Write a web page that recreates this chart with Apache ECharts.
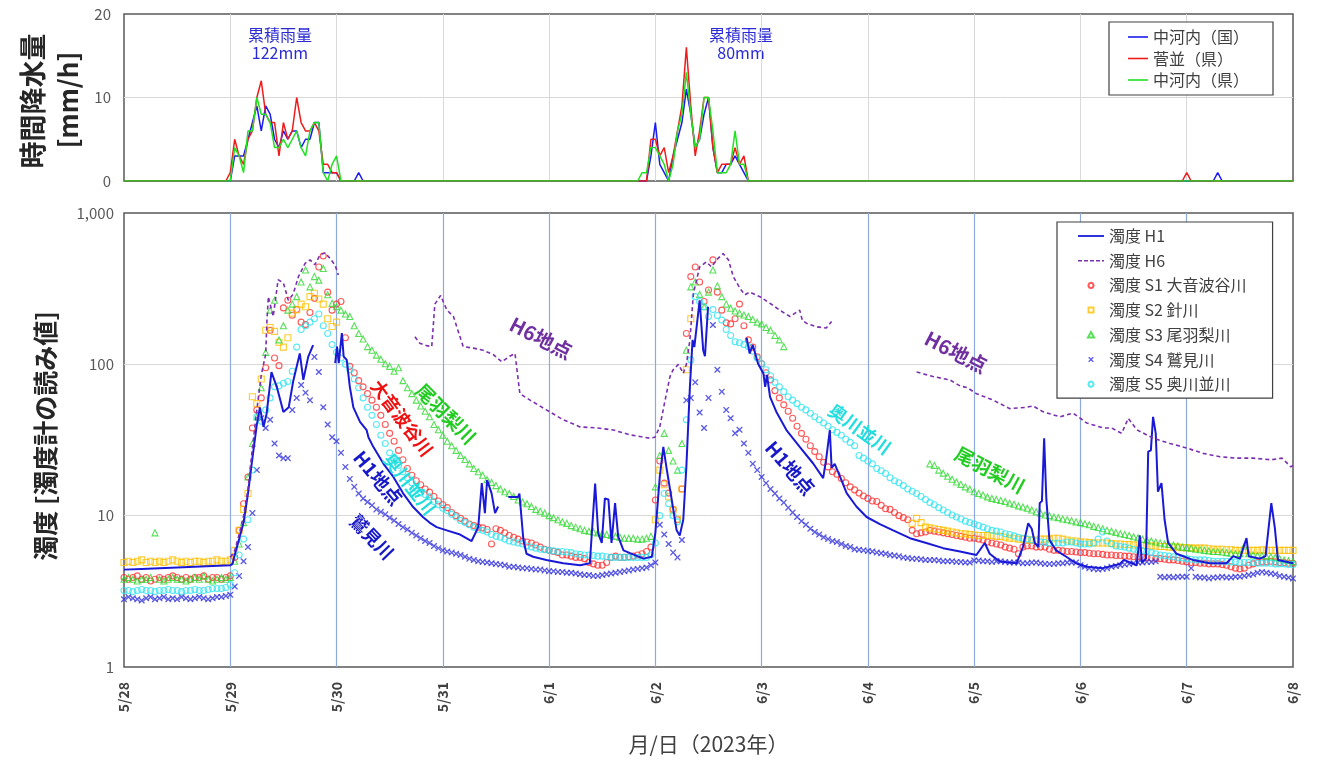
<!DOCTYPE html>
<html><head><meta charset="utf-8">
<script src="https://cdn.jsdelivr.net/npm/echarts@6/dist/echarts.min.js"></script>
<style>html,body{margin:0;padding:0;background:#fff}#c{width:1317px;height:761px}</style>
</head><body><div id="c"></div>
<script>
// x = hours after 2023-05-28 00:00
const dayLabels = ['5/28','5/29','5/30','5/31','6/1','6/2','6/3','6/4','6/5','6/6','6/7','6/8'];
const rainNames = ['中河内（国）','菅並（県）','中河内（県）'];
const turbNames = ['濁度 H1','濁度 H6','濁度 S1 大音波谷川','濁度 S2 針川','濁度 S3 尾羽梨川','濁度 S4 鷲見川','濁度 S5 奥川並川'];

// hourly rainfall [hour, mm/h]
const rainBlue = [[0,0],[24,0],[25,3],[26,3],[27,3],[28,5],[29,7],[30,9],[31,6],[32,9],[33,8],[34,5],[35,4],[36,6],[37,5],[38,6],[39,6],[40,4],[41,5],[42,5],[43,7],[44,7],[45,1],[46,1],[47,1],[48,1],[49,0],[52,0],[53,1],[54,0],[118,0],[119,3],[120,7],[121,2],[122,1],[123,0],[124,3],[125,5],[126,7],[127,11],[128,8],[129,4],[130,5],[131,8],[132,10],[133,4],[134,1],[135,1],[136,2],[137,2],[138,3],[139,2],[140,1],[141,0],[246,0],[247,1],[248,0],[264,0]];
const rainRed = [[0,0],[23,0],[24,1],[25,5],[26,3],[27,2],[28,5],[29,6],[30,10],[31,12],[32,8],[33,7],[34,7],[35,3],[36,7],[37,5],[38,6],[39,10],[40,7],[41,6],[42,6],[43,7],[44,6],[45,2],[46,2],[47,1],[48,1],[49,0],[118,0],[119,5],[120,5],[121,3],[122,4],[123,1],[124,3],[125,6],[126,9],[127,16],[128,9],[129,3],[130,6],[131,10],[132,10],[133,4],[134,1],[135,2],[136,2],[137,2],[138,4],[139,2],[140,3],[141,0],[239,0],[240,1],[241,0],[264,0]];
const rainGreen = [[0,0],[24,0],[25,4],[26,3],[27,1],[28,6],[29,6],[30,10],[31,8],[32,8],[33,7],[34,4],[35,4],[36,5],[37,4],[38,5],[39,6],[40,4],[41,3],[42,6],[43,7],[44,7],[45,1],[46,0],[47,2],[48,3],[49,0],[116,0],[117,1],[118,1],[119,4],[120,4],[121,3],[122,2],[123,0],[124,2],[125,6],[126,8],[127,13],[128,8],[129,4],[130,5],[131,10],[132,10],[133,6],[134,1],[135,1],[136,1],[137,2],[138,6],[139,2],[140,2],[141,0],[264,0]];

// H1 / H6 turbidity [hour, value], null = no data
const h1 = [[0,4.4],[4,4.45],[8,4.5],[12,4.55],[16,4.6],[20,4.65],[24,4.7],[24.5,4.8],[25,5.5],[26,7],[27,9],[28,14],[29,24],[30,40],[30.7,52],[31.5,38.6],[32.2,47],[33.3,89],[34.5,71],[36,48.5],[37.2,52],[38.2,77],[39.7,118],[40.5,79],[41.6,112],[42.7,134],[43,null],[47.7,102],[48.1,131],[48.5,102],[49.2,161],[49.6,113],[50.3,107],[51,71],[51.8,52],[53.3,41.7],[54.8,36.7],[55.2,33],[56.3,28.5],[58.6,22],[60.8,18.1],[63,14.1],[65.3,11.4],[67.5,9.8],[69,9],[70.6,8.4],[72.9,8],[75.9,7.5],[78.5,6.8],[80,8.4],[80.8,16.4],[81.5,10.4],[82,17.2],[83,14.1],[83.8,10.4],[84.5,11.5],[85,null],[86.8,13.3],[89,13.3],[89.3,14],[90.2,6.9],[90.9,5.6],[92.4,5.35],[95.4,5.1],[99.2,4.85],[103,4.7],[105.2,4.85],[106.4,16.3],[107.1,7.6],[107.9,6.6],[108.6,13],[109.4,12.8],[110.1,6.6],[110.9,12.1],[111.6,7.3],[112.8,5.9],[114.3,5.65],[117.3,5.2],[119.2,5.35],[120,7.7],[121,18.1],[121.8,28.5],[122.6,20],[123.7,12.7],[124.8,8],[125.5,7.4],[126.3,9.4],[127,21],[127.8,71],[128.4,145],[128.8,130],[130,265],[130.8,124],[131.2,113],[131.9,240],[132.3,null],[140.6,150],[141.3,118],[142,134],[143.2,101],[144.4,87],[144.8,71],[145.2,85],[145.9,61],[147.4,48],[149.6,36.8],[152.6,28.5],[155.6,22.2],[157.9,17.7],[158.6,24],[159.4,36.8],[159.8,20.7],[160.5,22],[161.7,18.1],[163.2,14.1],[165.4,11.5],[167.7,9.8],[170.7,8.8],[173.7,8],[177.5,7.1],[181.2,6.6],[185,6.1],[188.8,5.8],[192.5,5.5],[194.4,6.6],[195.5,5.6],[197.8,4.97],[201.6,4.85],[203,6.2],[204.2,8.9],[205,8.2],[205.7,6.6],[206.5,6.2],[206.8,12.1],[207.3,12.5],[207.8,32.5],[208.3,12.8],[209,6.9],[210.5,5.9],[212.8,5.35],[215,4.85],[217.4,4.6],[221.1,4.5],[224.9,4.8],[225.8,5.1],[228.7,4.7],[229.4,7.4],[229.9,4.9],[230.8,5.2],[231.3,26.5],[231.9,27],[232.4,45],[233,35],[233.5,14.4],[234.3,16.4],[235,9.4],[235.8,6.6],[237.7,5.6],[241.4,5.1],[245.2,4.85],[249,4.85],[250.5,5.4],[252,5.2],[253.5,7.1],[254,5.4],[256.5,5.2],[257.8,5.4],[259.1,12.1],[259.9,8.3],[260.6,5.1],[264,4.85]];
const h6 = [[24,5.3],[25,5.9],[26,7.5],[27,10],[28,15],[29,28],[30,50],[31,85],[32,117],[32.3,200],[32.6,280],[33.7,207],[34.8,362],[36,345],[37.1,265],[38.2,291],[39.4,380],[40.9,465],[42,490],[43.1,455],[44.3,530],[45.4,545],[46.5,503],[47.7,450],[48.4,389],[48.6,null],[65.7,152],[66.8,138],[68.3,133],[69.5,131],[70.2,250],[71.5,285],[72.9,229],[74.4,207],[76.6,131],[78.9,128],[81.1,124],[83.4,116],[85.3,104],[87.1,113],[88.3,118],[89.4,64],[91.7,58],[95.4,50],[99.2,43],[103,38.6],[106.7,38],[110.5,36.8],[114.3,34.2],[118.8,32.5],[119.9,33],[121,38.6],[122.2,58],[123.3,83],[124,92],[125.2,100],[126.3,87],[127,100],[127.8,145],[128.6,295],[130,440],[131.5,475],[132.7,440],[133.8,490],[135.3,540],[136.5,490],[137.6,380],[139.1,318],[140.2,288],[141.3,300],[143.6,280],[145.9,253],[148.1,228],[150.4,207],[152.6,228],[153.2,195],[154.1,187],[156.4,177],[158.6,174],[159.8,192],[160,null],[179,89],[182.7,83],[186.5,79],[188.8,72],[190.5,70],[192.5,64],[196.3,58],[200,51],[203.8,52],[205.3,53],[207.6,48.5],[211.4,45],[213.6,47],[214.4,47.5],[217.4,41],[221.1,38],[223,38],[225.3,35],[226.8,44],[228.7,37],[232.4,32.5],[236.2,30],[240,28],[243.7,25.8],[247.5,24.5],[251.3,24],[255,24],[259,23.4],[261.5,24],[262.5,22.5],[263.5,21],[264,21.5]];

// hourly sensor values; each array starts at its *Start hour
const s1Start = 0;
const s1 = [3.9,3.8,3.9,4.0,3.8,3.9,3.7,3.8,3.9,3.8,3.9,4.0,3.9,3.8,3.9,3.8,3.9,3.9,4.0,3.8,3.9,3.9,3.8,3.9,
4.0,5.3,8,12,18,38,50,60,95,168,110,98,236,265,211,230,190,183,220,273,440,520,300,228,
250,260,150,97,88,78,71,64,58,52,46,40,35,31,27,23.4,20.5,18.5,17,16,15,14.3,13.4,12.5,
11.8,11.3,10.5,10,9.6,9.2,8.8,8.6,8.4,8.3,8.1,6.5,8.2,8.0,7.7,7.4,7.2,7.0,6.8,6.7,6.6,6.4,6.2,6.0,
5.9,5.8,5.7,5.5,5.5,5.4,5.3,5.3,5.2,4.9,4.8,4.7,4.7,4.9,5.3,5.4,5.3,5.3,5.35,5.4,5.5,5.6,5.8,6.2,
12.7,23,16.4,14.1,11,9.4,15,160,380,440,350,260,310,490,300,228,188,185,200,250,180,145,130,112,
101,88,79,67,60,54,49,44,39,35,32,29,26.5,24.5,22.5,21,19.5,18.8,17.6,16.5,15.5,14.8,14.1,13.5,
13,12.5,12.4,11.7,11.1,11,10.5,10,9.7,9.4,8.0,7.6,7.7,7.8,8,7.9,7.8,7.7,7.6,7.5,7.4,7.3,7.2,7.1,
7.1,7.0,6.9,6.7,6.6,6.5,6.4,6.2,6.1,6.0,5.6,6.2,6.3,6.3,6.2,6.2,6.2,6.0,5.9,5.9,5.85,5.8,5.8,5.75,
5.7,5.7,5.65,5.6,5.6,5.55,5.5,5.5,5.45,5.45,5.4,5.4,5.35,5.35,5.3,5.3,5.25,5.2,5.2,5.15,5.1,5.1,5.05,5.0,
4.95,4.9,4.9,4.85,4.85,4.8,4.8,4.8,4.75,4.7,4.6,4.5,4.45,4.5,4.7,4.8,4.9,4.95,4.95,5.0,4.95,4.9,4.9,4.85,4.85];
const s2aStart = 0;
const s2a = [4.9,5.0,4.9,5.0,5.1,4.9,5.0,4.9,5.0,4.9,5.0,5.1,5.0,4.9,5.0,4.9,5.0,5.0,4.9,5.0,5.0,5.1,5.0,5.0,
5.1,5.9,8,11,14,61,55,80,168,175,165,140,130,150,218,230,250,240,280,295,270,250,200,178,190];
const s2bStart = 120;
const s2b = [9.4,20,16,13.3,10.9,9.5,15,92,200];
const s2cStart = 178;
const s2c = [8.9,9.6,9.0,8.4,8.3,8.2,8.1,8.0,7.9,7.8,7.7,7.6,7.6,7.5,
7.45,7.4,7.4,7.4,7.4,7.3,7.3,7.2,7.1,7.1,7.0,7.0,6.9,6.9,6.9,7.0,7.0,7.0,7.1,7.1,7.0,6.9,6.8,6.8,
6.7,6.7,6.65,6.6,6.6,6.6,6.6,6.55,6.5,6.5,6.45,6.45,6.4,6.4,6.35,6.35,6.3,6.3,6.25,6.25,6.2,6.2,6.2,6.15,
6.15,6.1,6.1,6.1,6.1,6.05,6.0,6.0,6.0,5.95,5.95,5.9,5.9,5.9,5.9,5.9,5.9,5.95,5.9,5.9,5.9,5.9,5.9,5.9,5.9];
const s3aStart = 0;
const s3a = [3.8,3.9,3.8,3.7,3.8,3.8,3.9,7.7,3.8,3.7,3.8,3.9,3.8,3.8,3.7,3.8,3.9,3.8,4.0,3.8,3.7,3.8,3.9,3.8,
3.9,5.0,6.5,9,18,30,45,70,120,228,265,145,180,228,250,280,350,420,325,380,360,430,288,253,
240,228,215,207,180,160,147,131,124,115,108,101,97,90,95,78,70,64,58,53,49,45,40,37,
34,31,29,27,25,23.5,22,20.5,19.5,18.5,17.3,16.6,15.8,15,14.4,14,13.4,12.7,12.3,12.0,11.5,11,10.7,10.4,
10,9.7,9.4,9.1,8.9,8.6,8.4,8.2,8.0,7.9,7.8,7.7,7.6,7.5,7.4,7.3,7.2,7.1,7.1,7.1,7.0,7.0,7.1,7.3,
15.5,25,35,27,23,20,30,124,325,350,290,240,300,420,330,280,250,235,225,218,212,207,198,190,
185,175,168,155,145,131];
const s3bStart = 182;
const s3b = [22,21.5,20,19.1,18.2,17.4,16.7,16.1,15.5,15,
14.4,14.0,13.7,13.3,13.0,12.8,12.6,12.4,12.1,11.9,11.6,11.4,11.2,10.9,10.6,10.4,10.1,10.0,9.8,9.7,9.5,9.4,9.25,9.1,
9.0,8.85,8.7,8.5,8.35,8.2,8.0,7.9,7.75,7.6,7.5,7.4,7.25,7.15,7.0,6.9,6.8,6.7,6.6,6.5,6.45,6.4,6.3,6.2,
6.15,6.1,6.0,5.95,5.9,5.85,5.8,5.8,5.75,5.7,5.65,5.6,5.6,6.3,5.6,5.5,5.45,5.45,5.4,5.35,5.3,5.2,5.1,5.05,4.97];
const s4Start = 0;
const s4 = [2.8,2.9,2.85,2.8,2.75,2.85,2.9,2.8,2.85,2.9,2.8,2.85,2.8,2.9,2.85,2.8,2.85,2.9,2.85,2.8,2.85,2.9,2.9,2.95,
3.0,3.4,4.0,5,6.2,10.4,20,44,38,43,30,25,24,24,50,60,73,65,58,112,89,52,40,33,
31,26,21,17.5,15.5,14,13,12.3,11.7,11,10.6,10.2,9.7,9.3,8.8,8.4,8.1,7.7,7.4,7.1,6.8,6.6,6.3,6.1,
5.9,5.8,5.7,5.6,5.5,5.35,5.2,5.1,5.0,4.95,4.9,4.85,4.8,4.75,4.7,4.6,4.6,4.55,4.5,4.5,4.45,4.4,4.4,4.35,
4.3,4.3,4.25,4.25,4.2,4.2,4.15,4.1,4.05,4.05,4.0,4.0,4.05,4.1,4.15,4.2,4.25,4.3,4.35,4.4,4.45,4.5,4.55,4.7,
4.9,8.7,7.5,6.5,5.7,5.3,6.9,58,60,76,48,38,60,182,92,66,50,44,35,37,30,26,22,20,
18,16.4,15,14,13,12.2,11.3,10.5,9.8,9.2,8.7,8.2,7.8,7.5,7.2,7.0,6.8,6.7,6.5,6.3,6.2,6.0,5.95,5.9,
5.85,5.8,5.7,5.65,5.6,5.5,5.45,5.4,5.3,5.25,5.2,5.2,5.15,5.1,5.1,5.1,5.05,5.0,5.0,5.0,4.95,4.95,4.9,4.9,
5.05,5.05,5.0,5.0,4.95,5.0,5.0,4.95,4.9,4.9,4.9,4.85,4.85,4.9,4.9,4.85,4.8,4.8,4.8,4.85,4.85,4.9,4.9,4.9,
4.7,4.6,4.5,4.45,4.4,4.45,4.5,4.6,4.65,4.7,4.75,4.8,4.85,4.9,4.9,4.95,4.95,5.0,3.95,3.9,3.95,3.9,3.95,3.95,
3.95,4.5,3.95,3.9,3.9,3.85,3.9,3.9,3.95,3.9,3.9,3.95,3.95,4.0,4.05,4.1,4.2,4.25,4.2,4.15,4.1,4.0,3.95,3.9,3.85];
const s5Start = 0;
const s5 = [3.2,3.2,3.15,3.2,3.25,3.2,3.2,3.15,3.2,3.2,3.25,3.2,3.2,3.15,3.2,3.2,3.25,3.2,3.2,3.25,3.3,3.3,3.3,3.35,
3.5,4.2,5.5,7,9.4,20,45,42,50,60,71,72,75,77,90,130,170,180,190,200,215,180,160,135,
120,110,100,92,80,70,60,52,46,40,34,30,26,23.5,21.5,19.5,17.8,16.5,15.2,14.3,13.8,13.3,12.4,11.8,
11.2,10.8,10.2,9.8,9.3,9.0,8.7,8.4,8.1,8.0,7.8,7.5,7.3,7.2,7.0,6.8,6.7,6.6,6.5,6.3,6.2,6.1,6.0,5.95,
5.9,5.85,5.8,5.8,5.75,5.7,5.6,5.55,5.5,5.5,5.45,5.4,5.4,5.35,5.3,5.3,5.3,5.3,5.3,5.3,5.3,5.3,5.3,5.5,
6.6,10,14,12,10,9.1,20,43,107,280,260,240,207,230,210,196,170,155,141,139,135,131,122,110,
101,92,84,76,71,66,61,58,55,52,50,47.5,45,43,41,39,37,35.5,34,32,30.5,29,25,24,
23,22,20.5,19.8,19,17.8,17,16.5,15.8,15,14.5,14,13.4,12.8,12.2,11.8,11.3,10.9,10.5,10.1,9.8,9.5,9.2,9.0,
8.8,8.6,8.4,8.2,8.0,7.9,7.8,7.6,7.5,7.35,7.2,7.1,7.0,6.9,6.8,6.7,6.65,6.6,6.6,6.6,6.6,6.7,6.7,6.6,
6.5,6.5,6.5,6.6,7.0,7.8,6.8,6.5,6.3,6.25,6.2,6.1,6.0,5.9,5.85,5.8,5.7,5.6,5.5,5.45,5.4,5.35,5.3,5.25,
5.2,5.15,5.1,5.1,5.1,5.05,5.0,5.0,5.0,5.0,4.95,4.95,4.9,4.9,4.9,4.9,4.85,4.85,4.85,4.85,4.8,4.8,4.8,4.75,4.75];

const seg = (start, arr) => arr.map((v, i) => [start + i, v]);
const gap = arr => arr.map(p => [p[0], p[1] == null ? '-' : p[1]]);

const FONT = '"Noto Sans CJK JP","Noto Sans",sans-serif';
const deg = d => d * Math.PI / 180;
const hollow = c => ({ color: 'rgba(0,0,0,0)', borderColor: c, borderWidth: 1.1 });
const crossPath = 'path://M0,0L1.6,0L5,3.4L8.4,0L10,0L10,1.6L6.6,5L10,8.4L10,10L8.4,10L5,6.6L1.6,10L0,10L0,8.4L3.4,5L0,1.6Z';
// legend icons: bounding box fixed via move-to points, glyph centred
const icRainLine = 'path://M0,0M20,10M0,4.2L20,4.2L20,5.8L0,5.8Z';
const icLine = 'path://M0,0M26,7M0,2.6L26,2.6L26,4.4L0,4.4Z';
const icDash = 'path://M0,0M26,7M0,2.8L4,2.8L4,4.2L0,4.2Z M6,2.8L10,2.8L10,4.2L6,4.2Z M12,2.8L16,2.8L16,4.2L12,4.2Z M18,2.8L22,2.8L22,4.2L18,4.2Z M24,2.8L26,2.8L26,4.2L24,4.2Z';
const icRect = 'path://M0,0M26,7M10.5,1L15.5,1L15.5,6L10.5,6Z';
const icTri = 'path://M0,0M26,7M13,0.8L16,6.2L10,6.2Z';
const icCircle = 'path://M0,0M26,7M13,0.8L14.8,1.5L15.6,3.5L14.8,5.5L13,6.2L11.2,5.5L10.4,3.5L11.2,1.5Z';
const icCross = 'path://M0,0M26,7M10.5,1L11.5,1L13,2.6L14.5,1L15.5,1L15.5,2L13.9,3.5L15.5,5L15.5,6L14.5,6L13,4.4L11.5,6L10.5,6L10.5,5L12.1,3.5L10.5,2Z';

const chart = echarts.init(document.getElementById('c'), null, { renderer: 'canvas' });
const ann = (text, x, y, color, rot, size) => ({
  type: 'text', x, y, rotation: deg(rot), z: 50,
  style: { text, fill: color, font: 'bold ' + (size || 19) + 'px ' + FONT, align: 'center', verticalAlign: 'middle' }
});
const solidIcon = (c) => ({ color: c, borderWidth: 0 });

chart.setOption({
  animation: false,
  backgroundColor: '#fff',
  textStyle: { fontFamily: FONT },
  grid: [
    { left: 124, right: 24, top: 14, height: 167, show: true, borderColor: '#595959', borderWidth: 1.5, backgroundColor: 'transparent' },
    { left: 124, right: 24, top: 213, height: 454, show: true, borderColor: '#595959', borderWidth: 1.5, backgroundColor: 'transparent' }
  ],
  xAxis: [
    { gridIndex: 0, type: 'value', min: 0, max: 264, interval: 24,
      axisLabel: { show: false }, axisTick: { show: false }, axisLine: { show: false },
      splitLine: { show: true, showMinLine: false, showMaxLine: false, lineStyle: { color: '#d9d9d9', width: 1 } } },
    { gridIndex: 1, type: 'value', min: 0, max: 264, interval: 24,
      axisLabel: { rotate: 90, margin: 15, fontSize: 14, fontWeight: 'bold', color: '#404040', fontFamily: FONT,
        formatter: v => dayLabels[Math.round(v / 24)] },
      axisTick: { show: false }, axisLine: { show: false },
      splitLine: { show: true, showMinLine: false, showMaxLine: false, lineStyle: { color: '#8ea9db', width: 1.2 } },
      name: '月/日（2023年）', nameLocation: 'middle', nameGap: 67,
      nameTextStyle: { fontSize: 21, color: '#404040', fontFamily: FONT } }
  ],
  yAxis: [
    { gridIndex: 0, type: 'value', min: 0, max: 20, interval: 10,
      axisLabel: { fontSize: 15, color: '#595959', margin: 13, fontFamily: FONT },
      axisTick: { show: false }, axisLine: { show: false },
      splitLine: { show: true, showMinLine: false, showMaxLine: false, lineStyle: { color: '#d9d9d9' } } },
    { gridIndex: 1, type: 'log', logBase: 10, min: 1, max: 1000,
      axisLabel: { fontSize: 15, color: '#595959', margin: 10, fontFamily: FONT,
        formatter: v => v >= 1000 ? '1,000' : String(Math.round(v)) },
      axisTick: { show: false }, axisLine: { show: false }, minorTick: { show: false },
      splitLine: { show: true, showMinLine: false, showMaxLine: false, lineStyle: { color: '#d9d9d9' } } }
  ],
  legend: [
    { data: [
        { name: rainNames[0], icon: icRainLine, itemStyle: solidIcon('#1c1cf0') },
        { name: rainNames[1], icon: icRainLine, itemStyle: solidIcon('#f01c1c') },
        { name: rainNames[2], icon: icRainLine, itemStyle: solidIcon('#22e022') }
      ], orient: 'vertical', left: 1109, top: 22, itemWidth: 20, itemHeight: 10, itemGap: 3.5,
      padding: [6, 24, 6, 19], backgroundColor: '#fff', borderColor: '#404040', borderWidth: 1.2, borderRadius: 0,
      textStyle: { fontSize: 16, color: '#404040', lineHeight: 18, fontFamily: FONT } },
    { data: [
        { name: turbNames[0], icon: icLine, itemStyle: solidIcon('#1a1ad6') },
        { name: turbNames[1], icon: icDash, itemStyle: solidIcon('#7a30b0') },
        { name: turbNames[2], icon: icCircle },
        { name: turbNames[3], icon: icRect },
        { name: turbNames[4], icon: icTri },
        { name: turbNames[5], icon: icCross },
        { name: turbNames[6], icon: icCircle }
      ], orient: 'vertical', left: 1057, top: 222, itemWidth: 26, itemHeight: 7, itemGap: 6.7,
      padding: [5, 26, 5, 20], backgroundColor: '#fff', borderColor: '#404040', borderWidth: 1.2, borderRadius: 0,
      textStyle: { fontSize: 16, color: '#404040', lineHeight: 18, fontFamily: FONT } }
  ],
  graphic: [
    { type: 'text', x: 33, y: 101, rotation: deg(90), style: { text: '時間降水量', fill: '#262626', font: 'bold 27px ' + FONT, align: 'center', verticalAlign: 'middle' } },
    { type: 'text', x: 68, y: 100, rotation: deg(90), style: { text: '[mm/h]', fill: '#262626', font: 'bold 26px ' + FONT, align: 'center', verticalAlign: 'middle' } },
    { type: 'text', x: 45, y: 436, rotation: deg(90), style: { text: '濁度 [濁度計の読み値]', fill: '#262626', font: 'bold 25px ' + FONT, align: 'center', verticalAlign: 'middle' } },
    { type: 'text', x: 280, y: 44, style: { text: '累積雨量\n122mm', fill: '#2a2ad4', font: '16px ' + FONT, lineHeight: 18, align: 'center', verticalAlign: 'middle' } },
    { type: 'text', x: 741, y: 44, style: { text: '累積雨量\n80mm', fill: '#2a2ad4', font: '16px ' + FONT, lineHeight: 18, align: 'center', verticalAlign: 'middle' } },
    ann('H6地点', 541, 338, '#7030a0', -27, 20),
    ann('H6地点', 956, 352, '#7030a0', -27, 20),
    ann('尾羽梨川', 446, 414, '#22cc22', -45, 19),
    ann('尾羽梨川', 990, 470, '#22cc22', -28, 19),
    ann('大音波谷川', 402, 418, '#ee1111', -53, 18),
    ann('奥川並川', 410, 484, '#22dddd', -52, 18),
    ann('奥川並川', 860, 429, '#22dddd', -36, 18),
    ann('H1地点', 378, 478, '#1818c8', -50, 19),
    ann('H1地点', 790, 468, '#1818c8', -49, 19),
    ann('鷲見川', 372, 537, '#1818c8', -46, 18)
  ],
  series: [
    { name: rainNames[0], type: 'line', xAxisIndex: 0, yAxisIndex: 0, data: rainBlue, symbol: 'none', lineStyle: { color: '#1c1cf0', width: 1.5 }, itemStyle: { color: '#1c1cf0' } },
    { name: rainNames[1], type: 'line', xAxisIndex: 0, yAxisIndex: 0, data: rainRed, symbol: 'none', lineStyle: { color: '#f01c1c', width: 1.5 }, itemStyle: { color: '#f01c1c' } },
    { name: rainNames[2], type: 'line', xAxisIndex: 0, yAxisIndex: 0, data: rainGreen, symbol: 'none', lineStyle: { color: '#22e022', width: 1.5 }, itemStyle: { color: '#22e022' } },

    { name: turbNames[0], type: 'line', xAxisIndex: 1, yAxisIndex: 1, data: gap(h1), symbol: 'none', connectNulls: false, z: 4,
      lineStyle: { color: '#1a1ad6', width: 2 }, itemStyle: { color: '#1a1ad6' } },
    { name: turbNames[1], type: 'line', xAxisIndex: 1, yAxisIndex: 1, data: gap(h6), symbol: 'none', connectNulls: false, z: 4,
      lineStyle: { color: '#7a30b0', width: 1.6, type: [4, 3] }, itemStyle: { color: '#7a30b0' } },
    { name: turbNames[2], type: 'scatter', xAxisIndex: 1, yAxisIndex: 1, data: seg(s1Start, s1), symbol: 'circle', symbolSize: 6, itemStyle: hollow('#ff3030') },
    { name: turbNames[3], type: 'scatter', xAxisIndex: 1, yAxisIndex: 1, data: seg(s2aStart, s2a).concat(seg(s2bStart, s2b), seg(s2cStart, s2c)), symbol: 'rect', symbolSize: 6, itemStyle: hollow('#ffbf00') },
    { name: turbNames[4], type: 'scatter', xAxisIndex: 1, yAxisIndex: 1, data: seg(s3aStart, s3a).concat(seg(s3bStart, s3b)), symbol: 'triangle', symbolSize: 6, itemStyle: hollow('#2ed82e') },
    { name: turbNames[5], type: 'scatter', xAxisIndex: 1, yAxisIndex: 1, data: seg(s4Start, s4), symbol: crossPath, symbolSize: 6, itemStyle: { color: '#3535dd' } },
    { name: turbNames[6], type: 'scatter', xAxisIndex: 1, yAxisIndex: 1, data: seg(s5Start, s5), symbol: 'circle', symbolSize: 6, itemStyle: hollow('#30e4f0') }
  ]
});
</script>
</body></html>
